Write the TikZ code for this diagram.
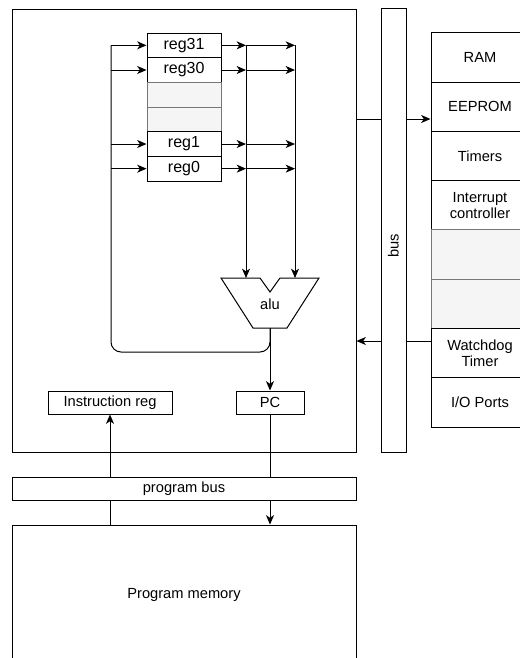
\documentclass[tikz,border=0pt]{standalone}
\usepackage{fontspec}
\setmainfont{Liberation Sans}
\usetikzlibrary{arrows.meta}
\definecolor{cellfill}{HTML}{F5F5F5}
\definecolor{cellline}{HTML}{777777}
\begin{document}
\begin{tikzpicture}[x=0.75pt,y=-0.75pt,line width=0.75pt,
  font=\fontsize{11}{12.5}\selectfont,
  blk/.style={draw,inner sep=0pt,align=center},
  regbox/.style={blk,minimum width=55.5pt,minimum height=18.5pt,font=\fontsize{12}{13}\selectfont},
  regempty/.style={regbox,fill=cellfill,draw=cellline},
  perbox/.style={blk,minimum width=73.5pt,minimum height=36.94pt},
  perempty/.style={perbox,fill=cellfill,draw=cellline},
  arr/.style={-{Stealth[length=7pt,width=6pt,inset=2pt]}},
]
\clip (0,0) rectangle (520,658);
\useasboundingbox (0,0) rectangle (520,658);

% CPU core outline and system bus
\node[blk,minimum width=258pt,minimum height=332.25pt] (cpu) at (184,230.5) {};
\node[blk,minimum width=18.75pt,minimum height=333pt] (bus) at (393.5,230) {};
\node[rotate=90] (buslabel) at (393.5,246) {bus};

% register file
\node[regbox]   (reg31) at (184,45.33)  {reg31};
\node[regbox]   (reg30) at (184,70)     {reg30};
\node[regempty] (regA)  at (184,94.67)  {};
\node[regempty] (regB)  at (184,119.33) {};
\node[regbox]   (reg1)  at (184,144)    {reg1};
\node[regbox]   (reg0)  at (184,168.67) {reg0};

% peripherals
\node[perbox]   (ram)    at (480,57.6)  {RAM};
\node[perbox]   (eeprom) at (480,106.9) {EEPROM};
\node[perbox]   (timers) at (480,156.1) {Timers};
\node[perbox]   (intc)   at (480,205.4) {Interrupt\\controller};
\node[perempty] (perA)   at (480,254.6) {};
\node[perempty] (perB)   at (480,303.9) {};
\node[perbox]   (wdt)    at (480,353.1) {Watchdog\\Timer};
\node[perbox]   (io)     at (480,402.4) {I/O Ports};

% ALU
\draw (221,278) -- (260,278) -- (270,292) -- (280,278) -- (319,278)
      -- (287,328) -- (253,328) -- cycle;
\node (alu) at (270,304) {alu};
\coordinate (aluout) at (270,328);
\coordinate (aluinA) at (246,278);
\coordinate (aluinB) at (295,278);

% control registers, program bus, program memory
\node[blk,minimum width=93pt,minimum height=17.25pt] (ir) at (110,402.5) {Instruction reg};
\node[blk,minimum width=51pt,minimum height=17.25pt] (pc) at (270,402.5) {PC};
\node[blk,minimum width=258pt,minimum height=17.25pt] (pbus) at (184,488.5) {program bus};
\node[blk,minimum width=258pt,minimum height=105pt] (pmem) at (184,595) {Program memory};

% register read/write lines
\coordinate (busL) at (111,0);
\coordinate (colA) at (246,0);
\coordinate (colB) at (295,0);
\foreach \r in {reg31,reg30,reg1,reg0}{
  \draw[arr] (busL |- \r.west) -- (\r.west);
  \draw[arr] (\r.east) -- (colA |- \r.east);
  \draw[arr] (colA |- \r.east) -- (colB |- \r.east);
}
\draw[arr] (colA |- reg31.east) -- (aluinA);
\draw[arr] (colB |- reg31.east) -- (aluinB);

% ALU result fed back to the registers and to the PC
\draw[rounded corners=7.5pt] (aluout) -- (270,352) -- (111,352) -- (busL |- reg31.west);
\draw[arr] (aluout) -- (pc.north);

% program bus connections
\draw (pc.south) -- (pc.south |- pbus.north);
\draw[arr] (ir.south |- pbus.north) -- (ir.south);
\draw (ir.south |- pbus.south) -- (ir.south |- pmem.north);
\draw[arr] (pc.south |- pbus.south) -- (pc.south |- pmem.north);

% data bus connections
\coordinate (wA) at (0,119);
\coordinate (wB) at (0,341);
\draw (cpu.east |- wA) -- (bus.west |- wA);
\draw[arr] (bus.east |- wA) -- (eeprom.west |- wA);
\draw[arr] (bus.west |- wB) -- (cpu.east |- wB);
\draw (bus.east |- wB) -- (wdt.west |- wB);
\end{tikzpicture}
\end{document}
